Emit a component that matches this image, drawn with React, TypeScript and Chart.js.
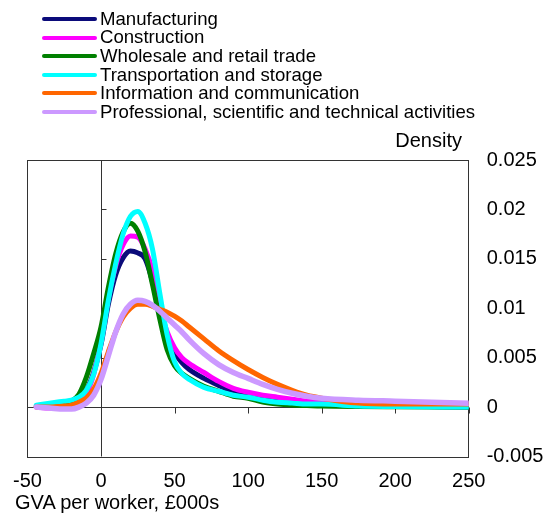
import React, { useEffect, useRef } from "react";
import { Chart, registerables } from "chart.js";

Chart.register(...registerables);

// GVA per worker, £000s (x positions of the density estimates)
const X_VALUES = [-44, -35, -25, -20, -15, -10, -5, 0, 5, 10, 15, 20, 25, 30, 35, 40, 45, 50, 55, 60, 70, 80, 90, 100, 110, 120, 130, 140, 150, 175, 200, 250];

const MANUFACTURING = [0.0001, 0.0002, 0.0003, 0.0004, 0.0008, 0.0017, 0.0035, 0.0063, 0.0104, 0.0134, 0.0151, 0.0158, 0.0156, 0.0150, 0.0127, 0.0095, 0.0070, 0.0055, 0.0045, 0.0038, 0.0029, 0.0022, 0.0016, 0.0012, 0.0009, 0.0007, 0.0005, 0.0004, 0.0003, 0.0002, 0.0001, 0.0];
const CONSTRUCTION = [0.0, -0.0001, -0.0001, 0.0, 0.0004, 0.0013, 0.0033, 0.0066, 0.0110, 0.0143, 0.0164, 0.0173, 0.0172, 0.0160, 0.0138, 0.0100, 0.0076, 0.0060, 0.0050, 0.0044, 0.0035, 0.0026, 0.0019, 0.0015, 0.0012, 0.0010, 0.0008, 0.0006, 0.0005, 0.0003, 0.0002, 0.0001];
const WHOLESALE = [0.0001, 0.0002, 0.0004, 0.0006, 0.0013, 0.0030, 0.0054, 0.0081, 0.0121, 0.0155, 0.0177, 0.0186, 0.0178, 0.0157, 0.0124, 0.0089, 0.0058, 0.0042, 0.0034, 0.0029, 0.0021, 0.0016, 0.0011, 0.0009, 0.0005, 0.0003, 0.0002, 0.00015, 0.0001, 0.00005, 0.00003, 0.0];
const TRANSPORT = [0.0002, 0.0004, 0.0006, 0.0007, 0.0010, 0.0017, 0.0033, 0.0064, 0.0108, 0.0145, 0.0175, 0.0193, 0.0198, 0.0186, 0.0160, 0.0115, 0.0073, 0.0046, 0.0034, 0.0028, 0.0020, 0.0016, 0.0012, 0.0010, 0.0007, 0.0005, 0.0004, 0.0003, 0.0003, 0.0001, 0.00005, 0.0];
const INFORMATION = [0.0, 0.0, 0.0001, 0.0002, 0.0005, 0.0009, 0.0018, 0.0034, 0.0056, 0.0076, 0.0091, 0.0100, 0.0104, 0.0104, 0.0102, 0.0099, 0.0096, 0.0092, 0.0087, 0.0081, 0.0069, 0.0057, 0.0047, 0.0038, 0.0030, 0.0023, 0.0017, 0.0012, 0.0009, 0.0004, 0.0003, 0.0003];
const PROFESSIONAL = [0.0, -0.0001, -0.0002, -0.0002, 0.0, 0.0004, 0.0012, 0.0028, 0.0052, 0.0076, 0.0094, 0.0104, 0.0108, 0.0107, 0.0103, 0.0097, 0.0090, 0.0083, 0.0076, 0.0068, 0.0054, 0.0043, 0.0035, 0.0029, 0.0023, 0.0018, 0.0014, 0.0011, 0.0009, 0.0007, 0.0006, 0.0004];

const SERIES_NAMES = [
  "Manufacturing",
  "Construction",
  "Wholesale and retail trade",
  "Transportation and storage",
  "Information and communication",
  "Professional, scientific and technical activities",
];
const SERIES_VALUES = [MANUFACTURING, CONSTRUCTION, WHOLESALE, TRANSPORT, INFORMATION, PROFESSIONAL];
const SERIES_COLORS = ["#0b0b7a", "#ff00ff", "#008000", "#00ffff", "#ff6600", "#cc99ff"];

const X_MIN = -50;
const X_MAX = 250;
const X_STEP = 50;
const Y_MIN = -0.005;
const Y_MAX = 0.025;
const Y_STEP = 0.005;

const X_TITLE = "GVA per worker, £000s";
const Y_TITLE = "Density";

const FONT = "'Liberation Sans', Arial, sans-serif";

const axesPlugin = {
  id: "axesPlugin",
  beforeDatasetsDraw(chart: any) {
    const { ctx, chartArea: a, scales } = chart;
    const xs = scales.x;
    const ys = scales.y;
    const x0 = Math.round(xs.getPixelForValue(0)) + 0.5;
    const y0 = Math.round(ys.getPixelForValue(0)) + 0.5;
    ctx.save();
    ctx.strokeStyle = "#333333";
    ctx.lineWidth = 1;
    ctx.strokeRect(
      Math.round(a.left) + 0.5,
      Math.round(a.top) + 0.5,
      Math.round(a.right - a.left),
      Math.round(a.bottom - a.top)
    );
    ctx.beginPath();
    ctx.moveTo(a.left, y0);
    ctx.lineTo(a.right, y0);
    ctx.moveTo(x0, a.top);
    ctx.lineTo(x0, a.bottom);
    xs.ticks.forEach((t: any) => {
      const px = Math.round(xs.getPixelForValue(t.value)) + 0.5;
      ctx.moveTo(px, y0);
      ctx.lineTo(px, y0 + 6);
    });
    ys.ticks.forEach((t: any) => {
      const py = Math.round(ys.getPixelForValue(t.value)) + 0.5;
      ctx.moveTo(x0, py);
      ctx.lineTo(x0 + 5, py);
    });
    ctx.stroke();
    ctx.restore();
  },
};

export default function App() {
  const canvasRef = useRef<HTMLCanvasElement | null>(null);

  useEffect(() => {
    const canvas = canvasRef.current;
    if (!canvas) return;
    const chart = new Chart(canvas, {
      type: "line",
      data: {
        datasets: SERIES_NAMES.map((name, i) => ({
          label: name,
          data: X_VALUES.map((x, j) => ({ x, y: SERIES_VALUES[i][j] })),
          borderColor: SERIES_COLORS[i],
          backgroundColor: SERIES_COLORS[i],
          borderWidth: i === 5 ? 5.5 : 5,
          pointRadius: 0,
          cubicInterpolationMode: "monotone",
          borderCapStyle: "round",
          borderJoinStyle: "round",
          fill: false,
          order: SERIES_NAMES.length - i,
        })),
      },
      options: {
        responsive: false,
        animation: false,
        devicePixelRatio: 1,
        layout: { padding: { left: 26, top: 160, right: 0, bottom: 0 } },
        plugins: {
          legend: { display: false },
          tooltip: { enabled: false },
        },
        scales: {
          x: {
            type: "linear",
            position: "bottom",
            min: X_MIN,
            max: X_MAX,
            grid: { display: false, drawTicks: false, tickLength: 0 },
            border: { display: false },
            ticks: {
              stepSize: X_STEP,
              padding: 13,
              color: "#000",
              font: { family: FONT, size: 20 },
              maxRotation: 0,
              autoSkip: false,
            },
            afterFit(scale: any) {
              scale.height = 56.5;
            },
          },
          y: {
            type: "linear",
            position: "right",
            min: Y_MIN,
            max: Y_MAX,
            grid: { display: false, drawTicks: false, tickLength: 0 },
            border: { display: false },
            ticks: {
              stepSize: Y_STEP,
              padding: 18,
              color: "#000",
              font: { family: FONT, size: 20 },
              callback: (v: any) => String(Number(Number(v).toFixed(3))),
            },
            afterFit(scale: any) {
              scale.width = 79.3;
            },
          },
        },
      } as any,
      plugins: [axesPlugin],
    });
    return () => chart.destroy();
  }, []);

  const rowCenters = [19, 37.6, 56.2, 74.8, 93.4, 112];

  return (
    <div style={{ position: "absolute", left: 0, top: 0, width: 548, height: 513, background: "#fff", fontFamily: FONT }}>
      <canvas ref={canvasRef} width={548} height={513} style={{ display: "block", position: "absolute", left: 0, top: 0 }} />
      {SERIES_NAMES.map((name, i) => (
        <div
          key={name}
          style={{
            position: "absolute",
            left: 41.7,
            top: rowCenters[i] - 9.3,
            height: 18.6,
            display: "flex",
            alignItems: "center",
            whiteSpace: "nowrap",
          }}
        >
          <div style={{ width: 55, height: 4, borderRadius: 2, background: SERIES_COLORS[i] }} />
          <span style={{ marginLeft: 3.3, fontSize: 18.6, lineHeight: "18.6px", color: "#000" }}>{name}</span>
        </div>
      ))}
      <div
        style={{
          position: "absolute",
          left: 0,
          top: 130,
          width: 462,
          textAlign: "right",
          fontSize: 20,
          lineHeight: "20px",
          color: "#000",
        }}
      >
        {Y_TITLE}
      </div>
      <div
        style={{
          position: "absolute",
          left: 15,
          top: 492,
          fontSize: 20,
          lineHeight: "20px",
          color: "#000",
          whiteSpace: "nowrap",
        }}
      >
        {X_TITLE}
      </div>
    </div>
  );
}
